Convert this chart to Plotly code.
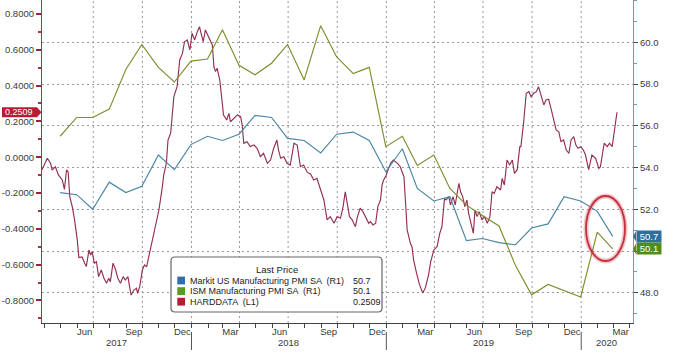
import datetime as dt
import plotly.graph_objects as go

# ---------------- data ----------------
pmi_dates = ["2017-04-30", "2017-05-31", "2017-06-30", "2017-07-31", "2017-08-31", "2017-09-30",
             "2017-10-31", "2017-11-30", "2017-12-31", "2018-01-31", "2018-02-28", "2018-03-31",
             "2018-04-30", "2018-05-31", "2018-06-30", "2018-07-31", "2018-08-31", "2018-09-30",
             "2018-10-31", "2018-11-30", "2018-12-31", "2019-01-31", "2019-02-28", "2019-03-31",
             "2019-04-30", "2019-05-31", "2019-06-30", "2019-07-31", "2019-08-31", "2019-09-30",
             "2019-10-31", "2019-11-30", "2019-12-31", "2020-01-31", "2020-02-29"]

markit_pmi = [52.8, 52.7, 52.0, 53.3, 52.8, 53.1, 54.6, 53.9, 55.1, 55.5, 55.3, 55.6,
              56.5, 56.4, 55.4, 55.3, 54.7, 55.6, 55.7, 55.3, 53.8, 54.9, 53.0, 52.4,
              52.6, 50.5, 50.6, 50.4, 50.3, 51.1, 51.3, 52.6, 52.4, 51.9, 50.7]

ism_pmi = [55.5, 56.4, 56.4, 56.8, 58.7, 59.9, 58.8, 58.1, 59.1, 59.2, 60.6, 58.9,
           58.45, 59.0, 59.9, 58.2, 60.8, 59.3, 58.5, 58.8, 55.0, 55.5, 54.1, 54.6,
           53.0, 52.2, 51.7, 51.2, 49.3, 47.9, 48.4, 48.1, 47.8, 50.9, 50.1]

hard_dates = [
    "2017-03-27", "2017-04-06", "2017-04-12", "2017-04-15", "2017-04-21", "2017-04-27", "2017-05-04",
    "2017-05-08", "2017-05-12", "2017-05-15", "2017-05-18", "2017-05-23", "2017-05-27", "2017-06-01",
    "2017-06-04", "2017-06-10", "2017-06-15", "2017-06-18", "2017-06-23", "2017-06-26", "2017-06-29",
    "2017-07-03", "2017-07-07", "2017-07-11", "2017-07-16", "2017-07-21", "2017-07-26", "2017-07-30",
    "2017-08-02", "2017-08-07", "2017-08-12", "2017-08-16", "2017-08-21", "2017-08-26", "2017-08-30",
    "2017-09-04", "2017-09-07", "2017-09-10", "2017-09-15", "2017-09-20", "2017-09-22", "2017-09-26",
    "2017-10-01", "2017-10-05", "2017-10-09", "2017-10-13", "2017-10-19", "2017-10-26", "2017-11-01",
    "2017-11-07", "2017-11-10", "2017-11-15", "2017-11-18", "2017-11-23", "2017-11-29", "2017-12-05",
    "2017-12-10", "2017-12-15", "2017-12-19", "2017-12-24", "2017-12-29", "2018-01-02", "2018-01-07",
    "2018-01-12", "2018-01-16", "2018-01-19", "2018-01-23", "2018-01-27", "2018-01-31", "2018-02-06",
    "2018-02-09", "2018-02-12", "2018-02-15", "2018-02-18", "2018-02-23", "2018-02-27", "2018-03-02",
    "2018-03-08", "2018-03-12", "2018-03-15", "2018-03-21", "2018-03-28", "2018-04-03", "2018-04-06",
    "2018-04-09", "2018-04-15", "2018-04-21", "2018-04-28", "2018-05-04", "2018-05-10", "2018-05-16",
    "2018-05-23", "2018-05-29", "2018-06-04", "2018-06-10", "2018-06-13", "2018-06-17", "2018-06-23",
    "2018-06-29", "2018-07-05", "2018-07-12", "2018-07-18", "2018-07-24", "2018-07-30", "2018-08-06",
    "2018-08-12", "2018-08-18", "2018-08-24", "2018-08-31", "2018-09-06", "2018-09-12", "2018-09-18",
    "2018-09-25", "2018-10-01", "2018-10-07", "2018-10-12", "2018-10-16", "2018-10-20", "2018-10-24",
    "2018-10-29", "2018-11-04", "2018-11-08", "2018-11-13", "2018-11-18", "2018-11-23", "2018-11-29",
    "2018-12-02", "2018-12-07", "2018-12-12", "2018-12-16", "2018-12-21", "2018-12-24", "2018-12-27",
    "2019-01-01", "2019-01-04", "2019-01-09", "2019-01-14", "2019-01-18", "2019-01-22", "2019-01-27",
    "2019-01-31", "2019-02-03", "2019-02-06", "2019-02-09", "2019-02-12", "2019-02-15", "2019-02-18",
    "2019-02-21", "2019-02-26", "2019-03-04", "2019-03-10", "2019-03-15", "2019-03-21", "2019-03-25",
    "2019-03-31", "2019-04-06", "2019-04-11", "2019-04-15", "2019-04-20", "2019-04-23", "2019-04-28",
    "2019-05-01", "2019-05-06", "2019-05-10", "2019-05-14", "2019-05-17", "2019-05-20", "2019-05-24",
    "2019-05-28", "2019-06-01", "2019-06-04", "2019-06-09", "2019-06-13", "2019-06-16", "2019-06-20",
    "2019-06-24", "2019-06-29", "2019-07-04", "2019-07-09", "2019-07-14", "2019-07-18", "2019-07-22",
    "2019-07-27", "2019-08-03", "2019-08-06", "2019-08-10", "2019-08-15", "2019-08-20", "2019-08-25",
    "2019-08-29", "2019-09-03", "2019-09-08", "2019-09-10", "2019-09-15", "2019-09-20", "2019-09-25",
    "2019-09-29", "2019-10-04", "2019-10-09", "2019-10-13", "2019-10-18", "2019-10-23", "2019-10-27",
    "2019-11-01", "2019-11-06", "2019-11-10", "2019-11-15", "2019-11-20", "2019-11-24", "2019-11-29",
    "2019-12-04", "2019-12-09", "2019-12-13", "2019-12-18", "2019-12-22", "2019-12-26", "2019-12-31",
    "2020-01-05", "2020-01-09", "2020-01-15", "2020-01-21", "2020-01-28", "2020-02-03", "2020-02-06",
    "2020-02-09", "2020-02-13", "2020-02-19", "2020-02-23", "2020-02-28", "2020-03-02", "2020-03-05",
    "2020-03-08"]

hard_values = [
    -0.070, -0.006, -0.034, -0.072, -0.053, -0.100, -0.127,
    -0.180, -0.070, -0.083, -0.220, -0.280, -0.350, -0.460,
    -0.560, -0.557, -0.592, -0.611, -0.518, -0.546, -0.528,
    -0.592, -0.584, -0.667, -0.630, -0.676, -0.704, -0.676,
    -0.695, -0.592, -0.630, -0.676, -0.704, -0.667, -0.686,
    -0.667, -0.723, -0.770, -0.742, -0.732, -0.760, -0.723,
    -0.630, -0.602, -0.611, -0.556, -0.462, -0.369, -0.295,
    -0.174, -0.100, -0.032, 0.096, 0.134, 0.338, 0.394,
    0.543, 0.580, 0.645, 0.655, 0.599, 0.692, 0.655,
    0.701, 0.729, 0.692, 0.645, 0.711, 0.683, 0.645,
    0.627, 0.505, 0.478, 0.497, 0.431, 0.320, 0.236,
    0.208, 0.245, 0.198, 0.217, 0.236, 0.226, 0.180,
    0.078, 0.087, 0.059, 0.068, 0.050, 0.003, 0.022,
    -0.034, -0.016, 0.050, 0.096, 0.040, -0.006, 0.003,
    -0.034, -0.044, 0.078, 0.068, -0.053, -0.044, -0.085,
    -0.094, -0.127, -0.118, -0.183, -0.239, -0.350, -0.332,
    -0.369, -0.332, -0.341, -0.276, -0.193, -0.258, -0.332,
    -0.350, -0.388, -0.332, -0.285, -0.304, -0.332, -0.369,
    -0.360, -0.378, -0.369, -0.276, -0.239, -0.155, -0.127,
    -0.099, -0.071, -0.034, -0.016, -0.025, -0.034, -0.053,
    -0.090, -0.109, -0.257, -0.406, -0.444, -0.481, -0.500,
    -0.574, -0.640, -0.710, -0.758, -0.730, -0.658, -0.585,
    -0.518, -0.500, -0.425, -0.390, -0.230, -0.239, -0.220,
    -0.267, -0.220, -0.267, -0.193, -0.146, -0.193, -0.220,
    -0.276, -0.239, -0.313, -0.369, -0.425, -0.295, -0.332,
    -0.304, -0.350, -0.332, -0.369, -0.332, -0.193, -0.202,
    -0.165, -0.183, -0.118, -0.155, -0.016, -0.044, -0.016,
    -0.090, -0.071, 0.059, 0.059, 0.190, 0.357, 0.366,
    0.338, 0.357, 0.366, 0.394, 0.347, 0.292, 0.320,
    0.324, 0.264, 0.208, 0.152, 0.142, 0.087, 0.096,
    0.040, 0.022, 0.096, 0.115, 0.068, 0.050, 0.059,
    0.040, 0.012, -0.070, 0.012, -0.006, -0.062, -0.053,
    0.003, 0.078, 0.059, 0.078, 0.059, 0.115, 0.170,
    0.2509]

series_names = ["Markit US Manufacturing PMI SA", "ISM Manufacturing PMI SA", "HARDDATA"]
series_axis_tags = ["(R1)", "(R1)", "(L1)"]

month_tick_dates = ["2017-06-15", "2017-09-15", "2017-12-15", "2018-03-15", "2018-06-15", "2018-09-15",
                    "2018-12-15", "2019-03-15", "2019-06-15", "2019-09-15", "2019-12-15", "2020-03-15"]
month_tick_labels = ["Jun", "Sep", "Dec", "Mar", "Jun", "Sep", "Dec", "Mar", "Jun", "Sep", "Dec", "Mar"]
quarter_grid_dates = ["2017-07-01", "2017-10-01", "2018-01-01", "2018-04-01", "2018-07-01", "2018-10-01",
                      "2019-01-01", "2019-04-01", "2019-07-01", "2019-10-01", "2020-01-01"]
year_labels = [2017, 2018, 2019, 2020]
left_ticks = [-0.8, -0.6, -0.4, -0.2, 0.0, 0.2, 0.4, 0.6, 0.8]
right_ticks = [48, 50, 52, 54, 56, 58, 60]

x_range = ["2017-03-27", "2020-04-07"]
left_range = [-0.926, 0.878]
right_range = [46.55, 62.03]

# ---------------- style ----------------
C_MARKIT = "#4a86a4"
C_ISM = "#7f8c30"
C_HARD = "#933050"
SQ_MARKIT = "#2f6fa5"
SQ_ISM = "#5a9a26"
SQ_HARD = "#b71c34"
TAG_MARKIT = "#2f6f9f"
TAG_ISM = "#4f8d1d"
TAG_HARD = "#b71c34"
FONT = "Liberation Sans, Arial, sans-serif"
TXT = "#3a3a3a"

W, H = 680, 361
ML, MR, MT, MB = 42, 47, 0, 38
PW, PH = W - ML - MR, H - MT - MB


def px_x(px):
    return (px - ML) / PW


def px_y(py):
    return (MT + PH - py) / PH


fig = go.Figure()
fig.add_trace(go.Scatter(x=hard_dates, y=hard_values, mode="lines", yaxis="y",
                         line=dict(color=C_HARD, width=1.15), name=series_names[2]))
fig.add_trace(go.Scatter(x=pmi_dates, y=markit_pmi, mode="lines", yaxis="y2",
                         line=dict(color=C_MARKIT, width=1.15), name=series_names[0]))
fig.add_trace(go.Scatter(x=pmi_dates, y=ism_pmi, mode="lines", yaxis="y2",
                         line=dict(color=C_ISM, width=1.15), name=series_names[1]))

shapes = []
annotations = []

# vertical dotted grid at quarter boundaries
for d in quarter_grid_dates:
    shapes.append(dict(type="line", xref="x", yref="paper", x0=d, x1=d, y0=0, y1=1,
                       line=dict(color="#9a9a9a", width=1, dash="2px,3px"), layer="below"))

# year separators and labels under the axis
r0 = dt.date.fromisoformat(x_range[0])
r1 = dt.date.fromisoformat(x_range[1])
for yr in year_labels:
    ys = dt.date(yr, 1, 1)
    ye = dt.date(yr + 1, 1, 1)
    if r0 < ys < r1:
        shapes.append(dict(type="line", xref="x", yref="paper", x0=ys.isoformat(), x1=ys.isoformat(),
                           y0=px_y(332), y1=px_y(350), line=dict(color="#555", width=1)))
    a = max(ys, r0)
    b = min(ye, r1)
    mid = a + (b - a) / 2
    annotations.append(dict(x=mid.isoformat(), y=px_y(342), xref="x", yref="paper", text=str(yr),
                            showarrow=False, xanchor="center", yanchor="middle",
                            font=dict(family=FONT, size=9.5, color=TXT)))

# legend box
lx0, lx1, ly0, ly1 = px_x(171), px_x(382), px_y(312), px_y(257)
rx, ry = 4 / PW, 4 / PH
legend_path = (f"M {lx0 + rx},{ly0} L {lx1 - rx},{ly0} Q {lx1},{ly0} {lx1},{ly0 + ry} "
               f"L {lx1},{ly1 - ry} Q {lx1},{ly1} {lx1 - rx},{ly1} L {lx0 + rx},{ly1} "
               f"Q {lx0},{ly1} {lx0},{ly1 - ry} L {lx0},{ly0 + ry} Q {lx0},{ly0} {lx0 + rx},{ly0} Z")
shapes.append(dict(type="path", xref="paper", yref="paper", path=legend_path,
                   fillcolor="white", line=dict(color="#666", width=1.2), layer="above"))
annotations.append(dict(x=px_x(276.5), y=px_y(269.3), xref="paper", yref="paper", text="Last Price",
                        showarrow=False, xanchor="center", yanchor="middle",
                        font=dict(family=FONT, size=9.5, color="#222")))
last_vals = [f"{markit_pmi[-1]:.1f}", f"{ism_pmi[-1]:.1f}", f"{hard_values[-1]:.4f}"]
sq_cols = [SQ_MARKIT, SQ_ISM, SQ_HARD]
for i in range(3):
    cy = 280.5 + i * 10.6
    shapes.append(dict(type="rect", xref="paper", yref="paper", x0=px_x(177.3), x1=px_x(185),
                       y0=px_y(cy + 3.9), y1=px_y(cy - 3.9), fillcolor=sq_cols[i],
                       line=dict(width=0), layer="above"))
    annotations.append(dict(x=px_x(188), y=px_y(cy), xref="paper", yref="paper",
                            text=f"{series_names[i]} \u00a0{series_axis_tags[i]}",
                            showarrow=False, xanchor="left", yanchor="middle",
                            font=dict(family=FONT, size=9, color="#222")))
    annotations.append(dict(x=px_x(351), y=px_y(cy), xref="paper", yref="paper", text=last_vals[i],
                            showarrow=False, xanchor="left", yanchor="middle",
                            font=dict(family=FONT, size=9, color="#222")))

# left last-value tag (HARDDATA)
hv = hard_values[-1]
hh = 5.0 / (PH / (left_range[1] - left_range[0]))
xl, xr, xt = px_x(2), px_x(37), px_x(41.5)
shapes.append(dict(type="path", xref="paper", yref="y",
                   path=f"M {xl},{hv - hh} L {xr},{hv - hh} L {xt},{hv} L {xr},{hv + hh} L {xl},{hv + hh} Z",
                   fillcolor=TAG_HARD, line=dict(width=0), layer="above"))
annotations.append(dict(x=(xl + xr) / 2, y=hv, xref="paper", yref="y", text=f"{hv:.4f}",
                        showarrow=False, xanchor="center", yanchor="middle",
                        font=dict(family=FONT, size=9, color="white")))

# right last-value tags (PMIs); the axis label under a tag is hidden, as in the terminal chart
tag_values = [markit_pmi[-1], ism_pmi[-1]]
u2 = PH / (right_range[1] - right_range[0])
for val, col in [(markit_pmi[-1], TAG_MARKIT), (ism_pmi[-1], TAG_ISM)]:
    h2 = 5.2 / u2
    shapes.append(dict(type="path", xref="paper", yref="y2",
                       path=f"M {px_x(636)},{val - h2} L {px_x(633)},{val} L {px_x(636)},{val + h2} Z",
                       fillcolor=col, line=dict(width=0), layer="above"))
    annotations.append(dict(x=px_x(635.5), y=val, xref="paper", yref="y2", text=f"{val:.1f}",
                            showarrow=False, xanchor="left", yanchor="middle", width=22, height=9,
                            bgcolor=col, borderpad=1, align="center",
                            font=dict(family=FONT, size=9.5, color="white")))
right_ticktext = [("" if any(abs(v - t) < 0.5 for t in tag_values) else f"{v:.1f}") for v in right_ticks]

# red highlight ellipse
ex0, ex1, ey0, ey1 = px_x(586), px_x(625), px_y(261), px_y(196)
shapes.append(dict(type="circle", xref="paper", yref="paper", x0=ex0, x1=ex1, y0=ey0, y1=ey1,
                   line=dict(color="rgba(215,90,100,0.35)", width=5), layer="above"))
shapes.append(dict(type="circle", xref="paper", yref="paper", x0=ex0, x1=ex1, y0=ey0, y1=ey1,
                   line=dict(color="#c4303d", width=1.8), layer="above"))

fig.update_layout(
    width=W, height=H,
    margin=dict(l=ML, r=MR, t=MT, b=MB, pad=0, autoexpand=False),
    paper_bgcolor="white", plot_bgcolor="white",
    showlegend=False,
    font=dict(family=FONT, size=9.5, color=TXT),
    xaxis=dict(type="date", range=x_range, showgrid=False, zeroline=False, automargin=False,
               showline=True, linecolor="#444", linewidth=1,
               tickmode="array", tickvals=month_tick_dates, ticktext=month_tick_labels,
               ticks="", tickfont=dict(family=FONT, size=9.5, color=TXT),
               minor=dict(ticks="outside", ticklen=4, tickcolor="#444", tickwidth=1,
                          dtick="M1", tick0="2017-01-01", showgrid=False)),
    yaxis=dict(range=left_range, side="left", showgrid=False, zeroline=False, automargin=False,
               showline=True, linecolor="#a0384d", linewidth=1.2,
               tickmode="array", tickvals=left_ticks,
               ticktext=[f"{v:.4f}" if abs(v) > 1e-9 else "0.0000" for v in left_ticks],
               ticks="outside", ticklen=5, tickwidth=1.5, tickcolor="#a0203a",
               tickfont=dict(family=FONT, size=9.5, color=TXT),
               minor=dict(ticks="outside", ticklen=3, tickcolor="#a0384d", dtick=0.1, tick0=0,
                          showgrid=False)),
    yaxis2=dict(range=right_range, side="right", overlaying="y", anchor="x", automargin=False,
                showgrid=True, gridcolor="#9a9a9a", griddash="2px,3px", gridwidth=1,
                zeroline=False, showline=True, linecolor="#6a9fb0", linewidth=1.2,
                tickmode="array", tickvals=right_ticks, ticktext=right_ticktext,
                ticks="outside", ticklen=4, tickwidth=1.2, tickcolor="#444",
                tickfont=dict(family=FONT, size=9.5, color=TXT),
                minor=dict(ticks="outside", ticklen=3, tickcolor="#6a9fb0", dtick=1, tick0=0,
                           showgrid=False)),
    shapes=shapes,
    annotations=annotations,
)

fig.write_html("out.html", config={"displayModeBar": False},
               post_script="document.body.style.margin='0';document.body.style.overflow='hidden';")
